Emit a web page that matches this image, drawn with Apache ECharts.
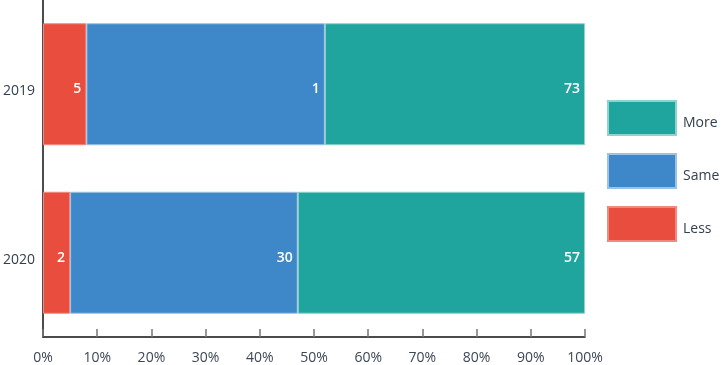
<!DOCTYPE html>
<html><head><meta charset="utf-8">
<script src="https://cdn.jsdelivr.net/npm/echarts@6/dist/echarts.min.js"></script>
<style>html,body{margin:0;padding:0;background:#fff}#c{width:724px;height:365px}</style>
</head><body><div id="c"></div>
<script>
const categories = ['2019', '2020'];
const seriesNames = ['Less', 'Same', 'More'];
// bar lengths (share of 100%)
const lessShare = [8.0, 5.0];
const sameShare = [44.0, 42.0];
const moreShare = [48.0, 53.0];
// numbers printed on the bars
const lessLabels = ['5', '2'];
const sameLabels = ['1', '30'];
const moreLabels = ['73', '57'];
const xTicks = [0, 10, 20, 30, 40, 50, 60, 70, 80, 90, 100];

const colors = { Less: '#e84d3d', Same: '#3e88c9', More: '#1fa59d' };
const borders = { Less: '#f08a80', Same: '#9cc3e6', More: '#8fd3cd' };
const FONT = 'Open Sans';

function mk(name, data, labels) {
  return {
    name, type: 'bar', stack: 'total', data, barWidth: 122,
    itemStyle: { color: colors[name], borderColor: borders[name], borderWidth: 1 },
    label: {
      show: true, position: 'insideRight', distance: 5, offset: [0, 5],
      color: '#fff', fontFamily: FONT, fontSize: 14, fontWeight: 600,
      formatter: p => labels[p.dataIndex]
    }
  };
}

const chart = echarts.init(document.getElementById('c'));
chart.setOption({
  animation: false,
  grid: { left: 43, right: 139, top: -1, bottom: 28 },
  legend: {
    orient: 'vertical', left: 607, top: 100, padding: 0,
    data: ['More', 'Same', 'Less'],
    itemWidth: 68, itemHeight: 34, itemGap: 17,
    icon: 'rect',
    formatter: n => '{t|' + n + '}',
    textStyle: {
      color: '#33404f', fontFamily: FONT, fontSize: 14,
      rich: { t: { color: '#33404f', fontFamily: FONT, fontSize: 14, padding: [10, 0, 0, 2] } }
    }
  },
  xAxis: {
    type: 'value', min: 0, max: 100, interval: 10,
    axisLine: { show: true, lineStyle: { color: '#111', width: 1.5 } },
    axisTick: { show: true, inside: true, length: 8, lineStyle: { color: '#777', width: 1.5 } },
    splitLine: { show: false },
    axisLabel: { formatter: v => xTicks.includes(v) ? v + '%' : '', color: '#3d4756', fontFamily: FONT, fontSize: 14, margin: 14 }
  },
  yAxis: {
    type: 'category', data: categories, inverse: true,
    axisLine: { show: true, lineStyle: { color: '#111', width: 1.5 } },
    axisTick: { show: false },
    axisLabel: { color: '#33404f', fontFamily: FONT, fontSize: 14, margin: 8, verticalAlign: 'top', lineHeight: 14 }
  },
  series: [
    mk('Less', lessShare, lessLabels),
    mk('Same', sameShare, sameLabels),
    mk('More', moreShare, moreLabels)
  ]
});
</script></body></html>
